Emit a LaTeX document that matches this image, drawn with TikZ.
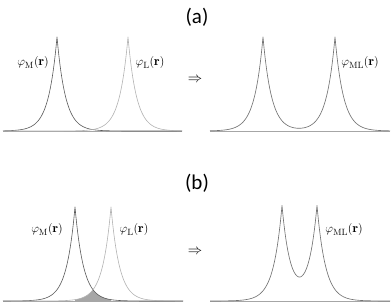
\documentclass[tikz,border=0pt]{standalone}
\usepackage{fontspec}
\newfontfamily\titlefont{Carlito}
\usepackage{amsmath}
\begin{document}
\begin{tikzpicture}[x=1pt,y=-1pt,line join=round,
  mline/.style={draw=black!65,line width=0.6pt},
  lline/.style={draw=black!30,line width=0.6pt},
  cline/.style={draw=black!55,line width=0.65pt},
  base/.style={draw=black!35,line width=0.8pt},
  lbl/.style={font=\fontsize{13}{15}\selectfont,inner sep=0pt},
  ttl/.style={font=\titlefont\fontsize{21}{24}\selectfont,inner sep=0pt},
  imp/.style={font=\fontsize{14}{16}\selectfont,inner sep=0pt}]
\useasboundingbox (0,0) rectangle (391,304);
\def\w{8.5}
\def\h{94}
% ---------- (a) ----------
\node[ttl] (ta) at (197,17) {(a)};
\draw[base] (3,131) -- (182,131);
\draw[mline] plot[domain=3:57,samples=80] (\x,{131-\h*exp(-(57-\x)/\w)})
  -- plot[domain=57:182,samples=120] (\x,{131-\h*exp(-(\x-57)/\w)});
\draw[lline] plot[domain=3:128,samples=120] (\x,{131-\h*exp(-(128-\x)/\w)})
  -- plot[domain=128:182,samples=80] (\x,{131-\h*exp(-(\x-128)/\w)});
\node[lbl] (lma) at (33,63) {$\varphi_{\mathrm{M}}(\mathbf{r})$};
\node[lbl] (lla) at (150,63) {$\varphi_{\mathrm{L}}(\mathbf{r})$};
\node[imp] (ia) at (195,80) {$\Rightarrow$};
\draw[base] (210,131) -- (390,131);
\draw[cline] plot[domain=210:263,samples=80] (\x,{131-\h*(exp(-abs(\x-263)/\w)+exp(-abs(\x-335)/\w))})
  -- plot[domain=263:335,samples=120] (\x,{131-\h*(exp(-abs(\x-263)/\w)+exp(-abs(\x-335)/\w))})
  -- plot[domain=335:390,samples=80] (\x,{131-\h*(exp(-abs(\x-263)/\w)+exp(-abs(\x-335)/\w))});
\node[lbl] (lmla) at (360,63) {$\varphi_{\mathrm{ML}}(\mathbf{r})$};
% ---------- (b) ----------
\node[ttl] (tb) at (197,183) {(b)};
\fill[black!35] (75,301) -- plot[domain=75:93,samples=40] (\x,{301-\h*exp(-(111-\x)/\w)})
  -- plot[domain=93:111,samples=40] (\x,{301-\h*exp(-(\x-75)/\w)}) -- (111,301) -- cycle;
\draw[base] (3,301) -- (183,301);
\draw[mline] plot[domain=3:75,samples=100] (\x,{301-\h*exp(-(75-\x)/\w)})
  -- plot[domain=75:183,samples=120] (\x,{301-\h*exp(-(\x-75)/\w)});
\draw[lline] plot[domain=3:111,samples=120] (\x,{301-\h*exp(-(111-\x)/\w)})
  -- plot[domain=111:183,samples=100] (\x,{301-\h*exp(-(\x-111)/\w)});
\node[lbl] (lmb) at (47,230) {$\varphi_{\mathrm{M}}(\mathbf{r})$};
\node[lbl] (llb) at (134,230) {$\varphi_{\mathrm{L}}(\mathbf{r})$};
\node[imp] (ib) at (195,252) {$\Rightarrow$};
\draw[base] (210,301) -- (390,301);
\draw[cline] plot[domain=210:282,samples=100] (\x,{301-\h*(exp(-abs(\x-282)/\w)+exp(-abs(\x-317)/\w))})
  -- plot[domain=282:317,samples=80] (\x,{301-\h*(exp(-abs(\x-282)/\w)+exp(-abs(\x-317)/\w))})
  -- plot[domain=317:390,samples=100] (\x,{301-\h*(exp(-abs(\x-282)/\w)+exp(-abs(\x-317)/\w))});
\node[lbl] (lmlb) at (344,230) {$\varphi_{\mathrm{ML}}(\mathbf{r})$};
\end{tikzpicture}
\end{document}
